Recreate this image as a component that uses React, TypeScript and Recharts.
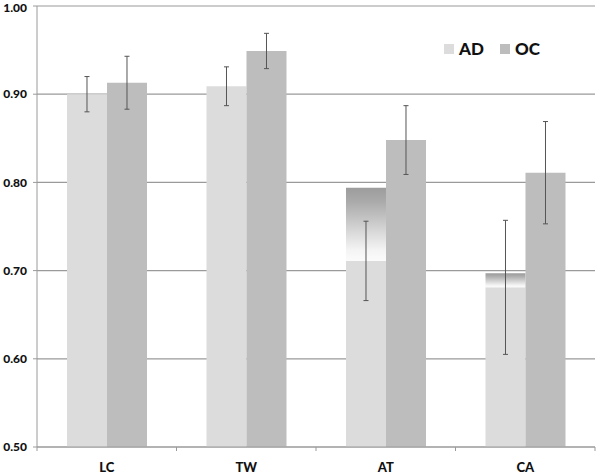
import { Bar, BarChart, CartesianGrid, ErrorBar, Legend, XAxis, YAxis } from "recharts";

const categories = ["LC", "TW", "AT", "CA"];
const adValues = [0.9, 0.909, 0.711, 0.681];
const adErrors = [0.02, 0.022, 0.045, 0.076];
// shaded band drawn on top of some AD bars in the original figure
const adShading = [0, 0, 0.083, 0.016];
const ocValues = [0.913, 0.949, 0.848, 0.811];
const ocErrors = [0.03, 0.02, 0.039, 0.058];
const yTicks = [0.5, 0.6, 0.7, 0.8, 0.9, 1.0];

const data = categories.map((name, i) => ({
  name,
  AD: adValues[i],
  adErr: adErrors[i],
  adCap: adShading[i],
  OC: ocValues[i],
  ocErr: ocErrors[i],
}));

const FONT = "Lato, 'Open Sans', sans-serif";
const GRID = "#9a9a9a";

function CategoryTick(props: any) {
  const { x, y, payload, index } = props;
  const half = payload.offset || 0;
  return (
    <g>
      <line x1={x - half} x2={x - half} y1={y} y2={y + 4} stroke={GRID} />
      {index === categories.length - 1 && (
        <line x1={x + half} x2={x + half} y1={y} y2={y + 4} stroke={GRID} />
      )}
      <text
        x={x}
        y={y + 25}
        textAnchor="middle"
        fontFamily={FONT}
        fontWeight={900}
        fontSize={13}
        fill="#111"
      >
        {payload.value}
      </text>
    </g>
  );
}

function LegendContent() {
  const items = [
    { label: "AD", color: "#dcdcdc" },
    { label: "OC", color: "#bdbdbd" },
  ];
  return (
    <div style={{ display: "flex", alignItems: "center", fontFamily: FONT }}>
      {items.map((it) => (
        <div key={it.label} style={{ display: "flex", alignItems: "center", marginRight: 16 }}>
          <span style={{ width: 10, height: 10, background: it.color, marginRight: 5 }} />
          <span style={{ fontSize: 17, fontWeight: 900, color: "#111" }}>{it.label}</span>
        </div>
      ))}
    </div>
  );
}

export default function App() {
  return (
    <div style={{ position: "absolute", left: 0, top: 0, background: "#fff" }}>
      <BarChart
        width={600}
        height={476}
        data={data}
        margin={{ top: 6, right: 5, bottom: 0, left: 0 }}
        barCategoryGap="21.5%"
        barGap={0}
      >
        <defs>
          <linearGradient id="capShade" x1="0" y1="0" x2="0" y2="1">
            <stop offset="0%" stopColor="#9c9c9c" />
            <stop offset="20%" stopColor="#ababab" />
            <stop offset="85%" stopColor="#f4f4f4" />
            <stop offset="100%" stopColor="#fbfbfb" />
          </linearGradient>
        </defs>
        <CartesianGrid vertical={false} stroke={GRID} strokeWidth={1.2} />
        <XAxis
          dataKey="name"
          height={29}
          stroke={GRID}
          tickLine={false}
          tickSize={0}
          tickMargin={0}
          tick={<CategoryTick />}
          interval={0}
        />
        <YAxis
          width={37}
          domain={[0.5, 1]}
          ticks={yTicks}
          allowDataOverflow
          stroke={GRID}
          tickSize={4}
          tickMargin={6}
          tickFormatter={(v: number) => v.toFixed(2)}
          tick={{ fontFamily: FONT, fontWeight: 900, fontSize: 12, fill: "#111" }}
        />
        <Legend
          layout="vertical"
          align="center"
          verticalAlign="middle"
          content={<LegendContent />}
          wrapperStyle={{ top: 38, left: 444, width: 140, height: 20 }}
        />
        <Bar dataKey="AD" stackId="ad" fill="#dcdcdc" isAnimationActive={false}>
          <ErrorBar dataKey="adErr" width={2.5} stroke="#555" strokeWidth={1} />
        </Bar>
        <Bar dataKey="adCap" stackId="ad" fill="url(#capShade)" legendType="none" isAnimationActive={false} />
        <Bar dataKey="OC" stackId="oc" fill="#bdbdbd" isAnimationActive={false}>
          <ErrorBar dataKey="ocErr" width={2.5} stroke="#555" strokeWidth={1} />
        </Bar>
      </BarChart>
    </div>
  );
}
